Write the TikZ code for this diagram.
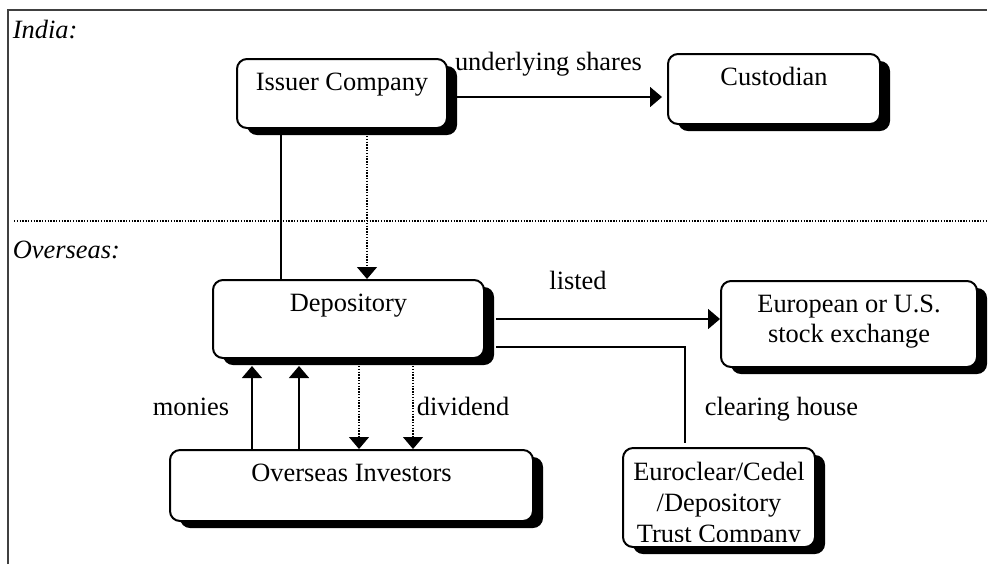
\documentclass[tikz,border=0pt]{standalone}
\usepackage{fontspec}
\setmainfont{Liberation Serif}
\usetikzlibrary{arrows.meta,shadows}

\tikzset{
  txt/.style={font=\fontsize{13.2}{15.3}\selectfont, inner sep=0pt},
  roundbox/.style={txt, draw, line width=1pt, rounded corners=5pt, fill=white,
    align=center, text height=15.5pt,
    drop shadow={shadow xshift=5pt, shadow yshift=-3.5pt, fill=black, opacity=1}},
  flow/.style={line width=0.8pt, -{Triangle[length=6pt,width=10pt]}},
  dotflow/.style={flow, line width=0.6pt, dash pattern=on 0.7pt off 0.7pt},
}

\begin{document}
\begin{tikzpicture}[x=0.5pt,y=-0.5pt]
  \def\shy{3.5pt}  % shadow depth
  \def\shx{5.5pt}
  \useasboundingbox (0,0) rectangle (988,564);
  \draw[black!75, line width=0.6pt] (8,564) -- (8,10) -- (987,10);
  \draw[line width=0.6pt, dash pattern=on 0.7pt off 0.7pt] (14,221) -- (988,221);
%
  \node[txt, anchor=base west, font=\fontsize{13.2}{15.3}\selectfont\itshape] (india) at (12.5,38) {India:};
  \node[txt, anchor=base west, font=\fontsize{13.2}{15.3}\selectfont\itshape] (overseas) at (12.5,258) {Overseas:};
%
  \node[roundbox, minimum width=105pt, text depth=19pt] (iss) at (342,93.5) {Issuer Company};
  \node[roundbox, minimum width=106pt, text depth=19.5pt] (cus) at (774,89) {Custodian};
  \node[roundbox, minimum width=135.5pt, text depth=23.5pt] (dep) at (348.5,319) {Depository};
  \node[roundbox, minimum width=128pt, text height=30.8pt, text depth=12.2pt] (eur) at (849,324) {European or U.S.\\stock exchange};
  \node[roundbox, minimum width=181.5pt, text depth=20pt] (inv) at (351.5,485.5) {Overseas Investors};
  \node[roundbox, minimum width=96pt, minimum height=49.5pt] (euro) at (719,497.5) {};
  \begin{scope}
    \clip ([yshift=-0.5pt]euro.north west) rectangle ([yshift=\shy]euro.south east);
    \node[txt, font=\fontsize{13.2}{15.6}\selectfont, align=center, anchor=north, text height=47.6pt] (eurotxt) at (euro.north) {Euroclear/Cedel\\/Depository\\Trust Company};
  \end{scope}
%
  \draw[flow, shorten >=2.5pt] ([yshift=-1.75pt]iss.east) -- ([yshift=-1.75pt]iss.east -| cus.west);
  \node[txt, anchor=base] (shares) at (548.5,70) {underlying shares};
  \draw[line width=0.8pt] ([xshift=22.5pt]iss.south west) -- ([xshift=22.5pt]iss.south west |- dep.north);
  \draw[dotflow] ([xshift=12.5pt,yshift=-\shy]iss.south) -- ([xshift=12.5pt]iss.south |- dep.north);
%
  \draw[flow] ([xshift=\shx]dep.east) -- (dep.east -| eur.west);
  \node[txt, anchor=base] (listed) at (578,289) {listed};
  \draw[line width=0.8pt] ([xshift=\shx,yshift=-14pt]dep.east) -| ([xshift=-17pt,yshift=2pt]euro.north);
  \node[txt, anchor=base] (clearing) at (781.5,415) {clearing house};
%
  \foreach \dx in {-48.25pt,-24.75pt}
    \draw[flow] ([xshift=\dx]dep.south |- inv.north) -- ([xshift=\dx,yshift=-\shy]dep.south);
  \foreach \dx in {5.25pt,32.25pt}
    \draw[dotflow] ([xshift=\dx,yshift=-\shy]dep.south) -- ([xshift=\dx]dep.south |- inv.north);
  \node[txt, anchor=base] (monies) at (191,415) {monies};
  \node[txt, anchor=base] (dividend) at (463,415) {dividend};
\end{tikzpicture}
\end{document}
